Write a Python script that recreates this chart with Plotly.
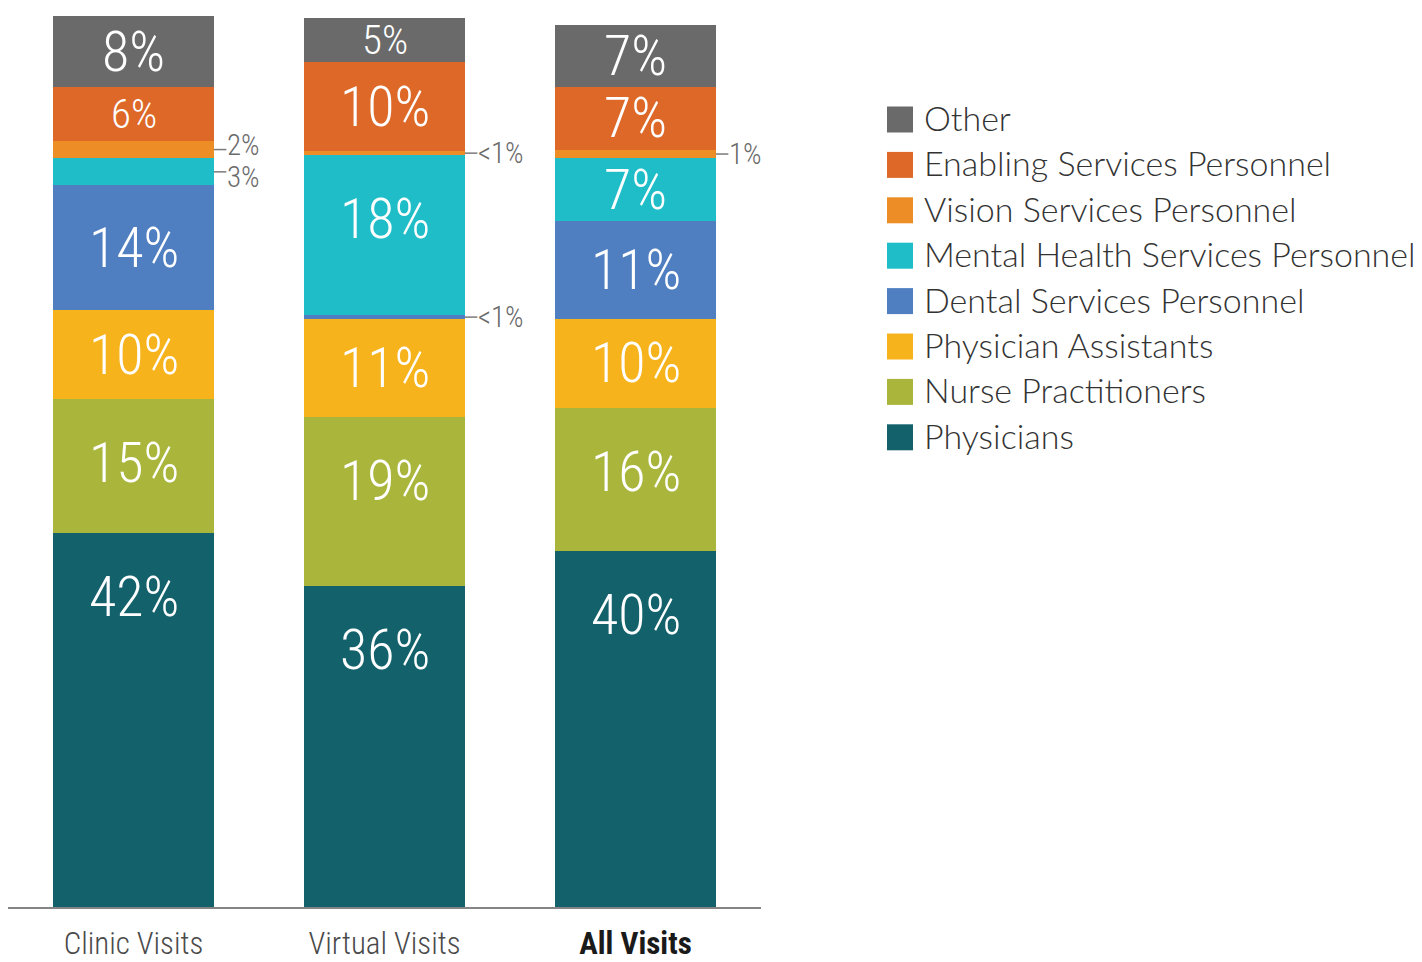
import plotly.graph_objects as go

# Share of visits by provider type (percent)
categories = ["Clinic Visits", "Virtual Visits", "All Visits"]
series_names = [
    "Physicians",
    "Nurse Practitioners",
    "Physician Assistants",
    "Dental Services Personnel",
    "Mental Health Services Personnel",
    "Vision Services Personnel",
    "Enabling Services Personnel",
    "Other",
]
physicians = [42, 36, 40]
nurse_practitioners = [15, 19, 16]
physician_assistants = [10, 11, 10]
dental_services = [14, 0.4, 11]
mental_health_services = [3, 18, 7]
vision_services = [2, 0.4, 1]
enabling_services = [6, 10, 7]
other = [8, 5, 7]

series_values = [
    physicians,
    nurse_practitioners,
    physician_assistants,
    dental_services,
    mental_health_services,
    vision_services,
    enabling_services,
    other,
]
series_colors = [
    "#13616b",
    "#a9b63b",
    "#f6b31c",
    "#4f7fc1",
    "#1ebdc7",
    "#ec8d26",
    "#dd6828",
    "#6a6a6a",
]

# Canvas geometry (pixels)
W, H = 1422, 962
TOP, BOTTOM, LEFT, RIGHT = 7, 907, 8, 761
Y_MAX = 101
BAR_WIDTH = 0.64

COND = "Roboto Condensed"


def px_x(px):
    return (px - LEFT) / (RIGHT - LEFT)


def px_y(py):
    return (BOTTOM - py) / (BOTTOM - TOP)


def pct_text(v):
    return "<1%" if v < 1 else f"{v:g}%"


fig = go.Figure()
x_idx = list(range(len(categories)))

for name, vals, color in zip(series_names, series_values, series_colors):
    fig.add_trace(
        go.Bar(
            x=x_idx,
            y=vals,
            name=name,
            marker=dict(color=color, line=dict(width=0)),
            width=BAR_WIDTH,
            showlegend=False,
            hoverinfo="name+y",
        )
    )

annotations = []
shapes = []

# Segment value labels: large ones inside, thin slices get a leader line
side_nudge = {(0, 5): 5, (0, 4): -5}
for ci in x_idx:
    base = 0.0
    for si, vals in enumerate(series_values):
        v = vals[ci]
        top = base + v
        if v >= 5:
            y = top - min(v / 2, 7.2)
            annotations.append(
                dict(
                    x=ci, y=y, xref="x", yref="y",
                    text=pct_text(v), showarrow=False,
                    xanchor="center", yanchor="middle",
                    font=dict(family=COND, size=56 if v >= 7 else 41,
                              color="white", weight=300),
                )
            )
        else:
            mid = base + v / 2
            x0 = ci + BAR_WIDTH / 2
            x1 = x0 + 0.05
            shapes.append(
                dict(
                    type="line", xref="x", yref="y",
                    x0=x0, x1=x1, y0=mid, y1=mid,
                    line=dict(color="#7a7a7a", width=1.5),
                )
            )
            annotations.append(
                dict(
                    x=x1, y=mid, xref="x", yref="y",
                    text=pct_text(v), showarrow=False,
                    xanchor="left", yanchor="middle",
                    yshift=side_nudge.get((ci, si), 0),
                    borderpad=0,
                    font=dict(family=COND, size=29, color="#6a6a6a", weight=300),
                )
            )
        base = top

# Legend: squares with labels, top entry is the top stack segment
LEG_SQ_X0, LEG_SQ_SIZE, LEG_TEXT_X = 887, 26, 922
LEG_ROW0, LEG_STEP = 119.5, 45.4
for row, (name, color) in enumerate(zip(series_names[::-1], series_colors[::-1])):
    cy = LEG_ROW0 + row * LEG_STEP
    shapes.append(
        dict(
            type="rect", xref="paper", yref="paper",
            x0=px_x(LEG_SQ_X0), x1=px_x(LEG_SQ_X0 + LEG_SQ_SIZE),
            y0=px_y(cy + LEG_SQ_SIZE / 2), y1=px_y(cy - LEG_SQ_SIZE / 2),
            fillcolor=color, line=dict(width=0),
        )
    )
    annotations.append(
        dict(
            x=px_x(LEG_TEXT_X), y=px_y(cy), xref="paper", yref="paper",
            text=name, showarrow=False,
            xanchor="left", yanchor="middle", yshift=2,
            font=dict(family="Lato", size=34, color="#333333", weight=300),
        )
    )

tick_text = [
    categories[0],
    categories[1],
    f"<b><span style='color:#1a1a1a'>{categories[2]}</span></b>",
]

fig.update_layout(
    width=W,
    height=H,
    barmode="stack",
    plot_bgcolor="white",
    paper_bgcolor="white",
    margin=dict(l=LEFT, r=W - RIGHT, t=TOP, b=H - BOTTOM, pad=0, autoexpand=False),
    xaxis=dict(
        range=[-0.5, 2.5],
        tickvals=x_idx,
        ticktext=tick_text,
        showgrid=False,
        zeroline=False,
        showline=True,
        linecolor="#858585",
        linewidth=2,
        ticks="",
        automargin=False,
        ticklabelstandoff=8,
        tickfont=dict(family=COND, size=31, color="#4a4a4a", weight=300),
        fixedrange=True,
    ),
    yaxis=dict(
        range=[0, Y_MAX],
        visible=False,
        showgrid=False,
        zeroline=False,
        fixedrange=True,
        automargin=False,
    ),
    annotations=annotations,
    shapes=shapes,
    showlegend=False,
)

fig.write_html("out.html")
